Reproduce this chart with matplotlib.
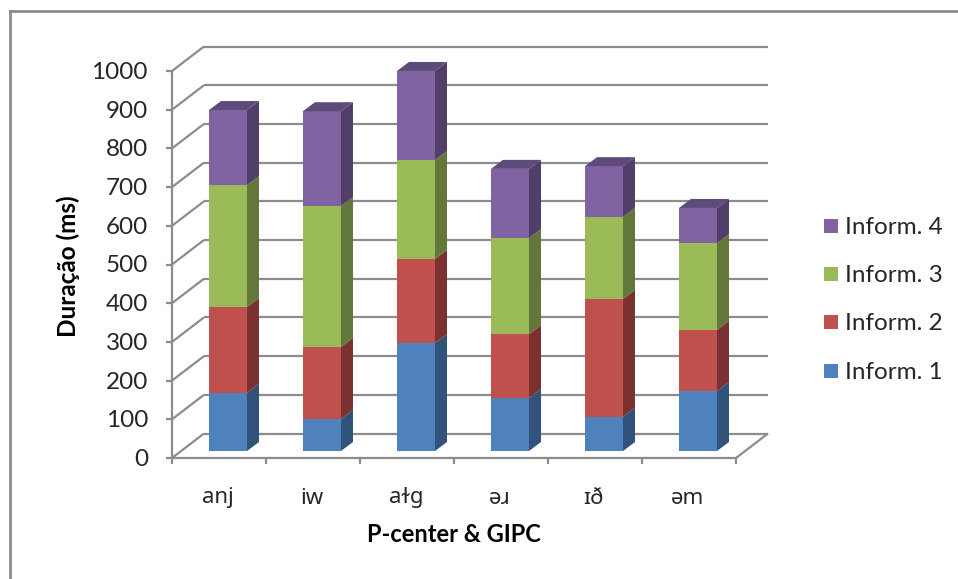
import matplotlib
matplotlib.use('Agg')
import matplotlib.pyplot as plt
from matplotlib.patches import Polygon, Rectangle
import numpy as np

# Data
categories = ['anj', 'iw', 'aɫg', 'əɹ', 'ɪð', 'əm']
inform_1 = [150, 83, 279, 137, 88, 155]
inform_2 = [222, 186, 217, 165, 305, 158]
inform_3 = [315, 364, 256, 248, 212, 224]
inform_4 = [194, 245, 230, 179, 131, 91]
series_names = ['Inform. 1', 'Inform. 2', 'Inform. 3', 'Inform. 4']
y_ticks = list(range(0, 1001, 100))

front_colors = ['#4f81bd', '#c0504d', '#9bbb59', '#8064a2']
side_colors = ['#31527a', '#7a312f', '#64773a', '#523f69']
top_color = '#5f4b7b'
grid_color = '#8c8c8c'
text_color = '#262626'
font_list = ['Lato', 'Noto Sans', 'DejaVu Sans']
plt.rcParams['font.family'] = font_list

W, H = 958, 579
fig = plt.figure(figsize=(W / 100, H / 100), dpi=100)

# Front plane of the fake 3D box, in pixels from the top left
left, right, top, bottom = 172, 736, 71, 458
ax = fig.add_axes([left / W, 1 - bottom / H, (right - left) / W, (bottom - top) / H])
ax.set_xlim(0, 6)
ax.set_ylim(0, 1000)
ax.axis('off')

# Pixel sizes converted to data units
px_x = 6 / (right - left)
px_y = 1000 / (bottom - top)
wall_dx, wall_dy = 32 * px_x, 24.5 * px_y
bar_dx, bar_dy = 12 * px_x, 9 * px_y
bar_width = 38 * px_x
bar_shift_x = 9 * px_x

line = dict(color=grid_color, lw=1.6, clip_on=False, solid_capstyle='butt')

# Back wall gridlines, diagonals and tick marks
for v in y_ticks:
    ax.plot([wall_dx, 6 + wall_dx], [v + wall_dy, v + wall_dy], zorder=1, **line)
    ax.plot([0, wall_dx], [v, v + wall_dy], zorder=1, **line)
    ax.plot([-6 * px_x, 0], [v, v], zorder=2, **line)
ax.plot([0, 0], [0, 1000], zorder=2, **line)

# Floor
ax.plot([0, 6], [0, 0], zorder=2, **line)
ax.plot([6, 6 + wall_dx], [0, wall_dy], zorder=1, **line)
for i in range(7):
    ax.plot([i, i], [0, -6 * px_y], zorder=2, **line)

# Stacked bars, drawn from the bottom series up
x_pos = np.arange(len(categories)) + 0.5 + bar_shift_x
base_y = 7 * px_y
all_series = [inform_1, inform_2, inform_3, inform_4]
running = np.zeros(len(categories))
for k, values in enumerate(all_series):
    values = np.array(values)
    ax.bar(x_pos, values, bar_width, bottom=running + base_y, color=front_colors[k],
           zorder=4 + k, label=series_names[k], clip_on=False)
    for x, b, h in zip(x_pos, running + base_y, values):
        xr = x + bar_width / 2
        side = [(xr, b), (xr + bar_dx, b + bar_dy), (xr + bar_dx, b + h + bar_dy), (xr, b + h)]
        ax.add_patch(Polygon(side, closed=True, fc=side_colors[k], ec='none', zorder=3 + k, clip_on=False))
    running = running + values

# Caps on top of the stacks
for x, t in zip(x_pos, running + base_y):
    xl, xr = x - bar_width / 2, x + bar_width / 2
    cap = [(xl, t), (xl + bar_dx, t + bar_dy), (xr + bar_dx, t + bar_dy), (xr, t)]
    ax.add_patch(Polygon(cap, closed=True, fc=top_color, ec='none', zorder=9, clip_on=False))

# Tick labels
for v in y_ticks:
    ax.text(-24 * px_x, v - 1.5 * px_y, str(v), ha='right', va='center', fontsize=17.5, color=text_color, zorder=10)
for i, name in enumerate(categories):
    ax.text(i + 0.5 - 1 * px_x, -40 * px_y, name, ha='center', va='center', fontsize=16, color=text_color,
            family=['Noto Sans', 'DejaVu Sans'])

# Axis titles
fig.text(454 / W, 1 - 534 / H, 'P-center & GIPC', ha='center', va='center', fontsize=17,
         fontweight='bold', color='black')
fig.text(68 / W, 1 - 266 / H, 'Duração (ms)', ha='center', va='center', rotation=90, fontsize=17.5,
         fontweight='bold', color='black')

# Legend
legend_rows = [(226, 3), (274, 2), (322, 1), (371, 0)]
for y_px, k in legend_rows:
    fig.add_artist(Rectangle((824 / W, 1 - (y_px + 7) / H), 14 / W, 14 / H, fc=front_colors[k],
                             ec='none', transform=fig.transFigure))
    fig.text(845 / W, 1 - (y_px + 1.5) / H, series_names[k], ha='left', va='center', fontsize=17.5, color=text_color)

# Chart frame: only the top and left edges fall inside the image
fig.add_artist(plt.Line2D([9.5 / W, 9.5 / W], [0, 1 - 10.5 / H], color='#8c8c8c', lw=2))
fig.add_artist(plt.Line2D([9.5 / W, 1], [1 - 10.5 / H, 1 - 10.5 / H], color='#8c8c8c', lw=2))

fig.savefig('out.png', dpi=100, facecolor='white')
